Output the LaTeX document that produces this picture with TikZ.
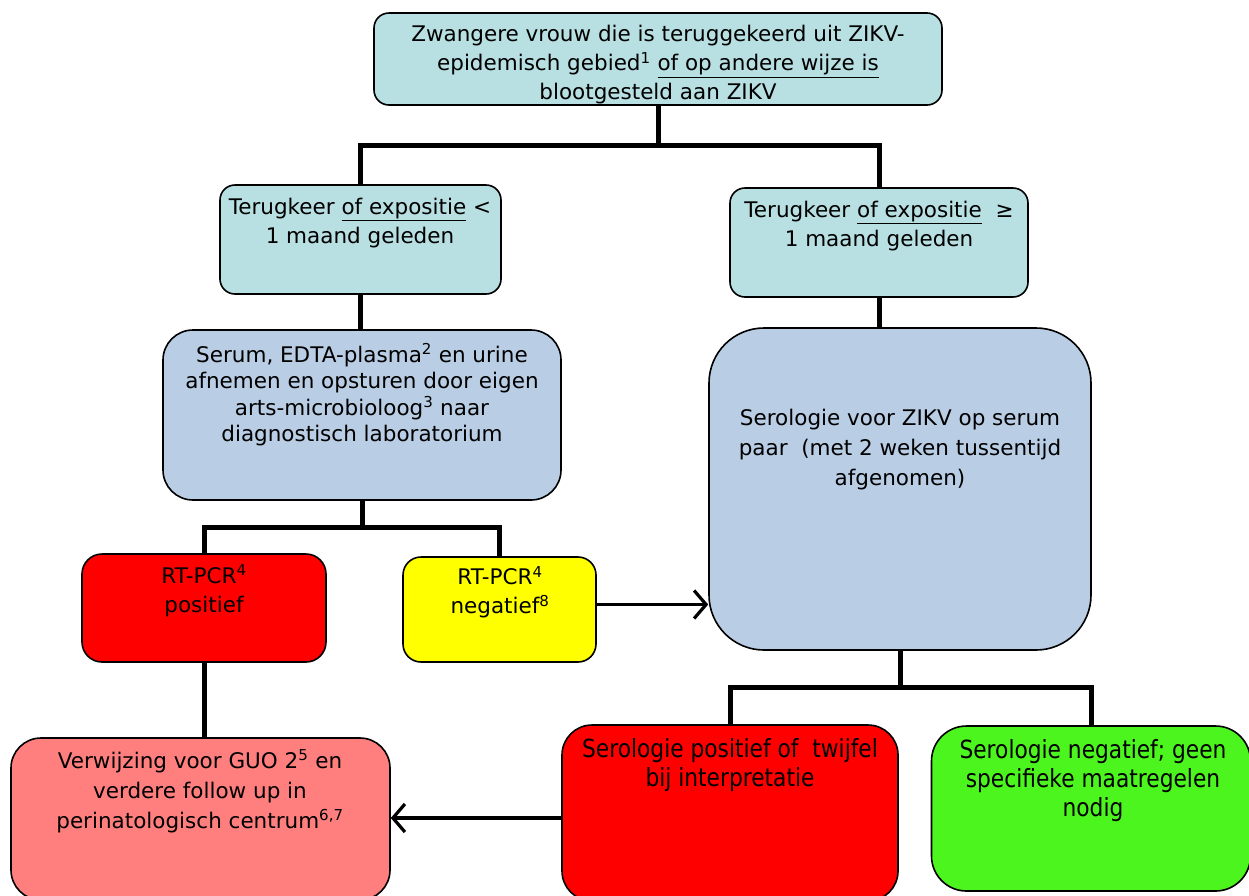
\documentclass[tikz,border=0pt]{standalone}
\usepackage{fontspec}
\setmainfont{DejaVu Sans}
\newfontfamily\condfont[FakeStretch=0.87]{DejaVu Sans}
\usetikzlibrary{arrows.meta}
\definecolor{cyanbox}{HTML}{B8E0E2}
\definecolor{bluebox}{HTML}{B9CDE4}
\definecolor{redbox}{HTML}{FF0000}
\definecolor{yellowbox}{HTML}{FFFF00}
\definecolor{pinkbox}{HTML}{FF7F7F}
\definecolor{greenbox}{HTML}{4DF51F}
\newcommand\sps[1]{\textsuperscript{#1}}
\tikzset{
  box/.style={draw=black, line width=1.6pt, rectangle, inner sep=0pt},
  txt/.style={align=center, inner sep=0pt, font=\fontsize{21.5}{29}\selectfont},
  ctxt/.style={align=center, inner sep=0pt, font=\condfont\fontsize{25}{29}\selectfont},
  conn/.style={line width=5pt},
  arr/.style={line width=3.2pt, -{Straight Barb[length=12pt,width=28pt,line width=3.2pt]}}
}
\begin{document}
\begin{tikzpicture}[x=1pt,y=-1pt]
\useasboundingbox[fill=white] (0,0) rectangle (1249,895);
% boxes
\node[box, fill=cyanbox, rounded corners=15pt, minimum width=568pt, minimum height=92pt] (top) at (658,59) {};
\node[box, fill=cyanbox, rounded corners=15pt, minimum width=281pt, minimum height=109pt] (L1) at (360.5,239.5) {};
\node[box, fill=cyanbox, rounded corners=15pt, minimum width=298pt, minimum height=109pt] (R1) at (879,242.5) {};
\node[box, fill=bluebox, rounded corners=30pt, minimum width=398pt, minimum height=170pt] (L2) at (362,415) {};
\node[box, fill=bluebox, rounded corners=55pt, minimum width=382pt, minimum height=322pt] (R2) at (900,489) {};
\node[box, fill=redbox, rounded corners=20pt, minimum width=244pt, minimum height=108pt] (Rpos) at (204,608) {};
\node[box, fill=yellowbox, rounded corners=18pt, minimum width=193pt, minimum height=105pt] (Yneg) at (499.5,609.5) {};
\node[box, fill=pinkbox, rounded corners=30pt, minimum width=379pt, minimum height=162pt] (Pink) at (200.5,819) {};
\node[box, fill=redbox, rounded corners=30pt, minimum width=336pt, minimum height=176pt] (Red2) at (730,813) {};
\node[box, fill=greenbox, rounded corners=35pt, minimum width=319pt, minimum height=165pt] (Green) at (1091,808.5) {};
% texts
\node[txt] at (658,65) {Zwangere vrouw die is teruggekeerd uit ZIKV-\\epidemisch gebied\sps{1} \underline{of op andere wijze is}\\blootgesteld aan ZIKV};
\node[txt] at (360,223) {Terugkeer \underline{of expositie} <\\1 maand geleden};
\node[txt] at (879,226) {Terugkeer \underline{of expositie}\ \ ≥\\1 maand geleden};
\node[txt, font=\fontsize{21.5}{26.5}\selectfont] at (362,395) {Serum, EDTA-plasma\sps{2} en urine\\afnemen en opsturen door eigen\\arts-microbioloog\sps{3} naar\\diagnostisch laboratorium};
\node[txt, font=\fontsize{21.5}{30}\selectfont] at (900,450) {Serologie voor ZIKV op serum\\paar\ \ (met 2 weken tussentijd\\afgenomen)};
\node[txt] at (204,591) {RT-PCR\sps{4}\\positief};
\node[txt] at (500,592) {RT-PCR\sps{4}\\negatief\sps{8}};
\node[txt, font=\fontsize{21.5}{30}\selectfont] at (200,791) {Verwijzing voor GUO 2\sps{5} en\\verdere follow up in\\perinatologisch centrum\sps{6,7}};
\node[ctxt] at (730,765) {Serologie positief of\ \ twijfel\\bij interpretatie};
\node[ctxt] at (1093,781) {Serologie negatief; geen\\specifieke maatregelen\\nodig};
% connectors
\draw[conn] (top.south) -- ++(0,40) coordinate (j1) -| (L1.north);
\draw[conn] (j1) -| (R1.north);
\draw[conn] (L1.south) -- (L1.south |- L2.north);
\draw[conn] (R1.south) -- (R1.south |- R2.north);
\draw[conn] (L2.south) -- ++(0,27) coordinate (j2) -| (Rpos.north);
\draw[conn] (j2) -| (Yneg.north);
\draw[conn] (Rpos.south) -- (Rpos.south |- Pink.north);
\draw[conn] (R2.south) -- ++(0,37) coordinate (j3) -| (Red2.north);
\draw[conn] (j3) -| (Green.north);
\draw[arr] (Yneg.east) ++(0,-5) coordinate (a1) -- (a1 -| R2.west);
\draw[arr] (Red2.west) ++(0,5) coordinate (a2) -- (a2 -| Pink.east);
\end{tikzpicture}
\end{document}
